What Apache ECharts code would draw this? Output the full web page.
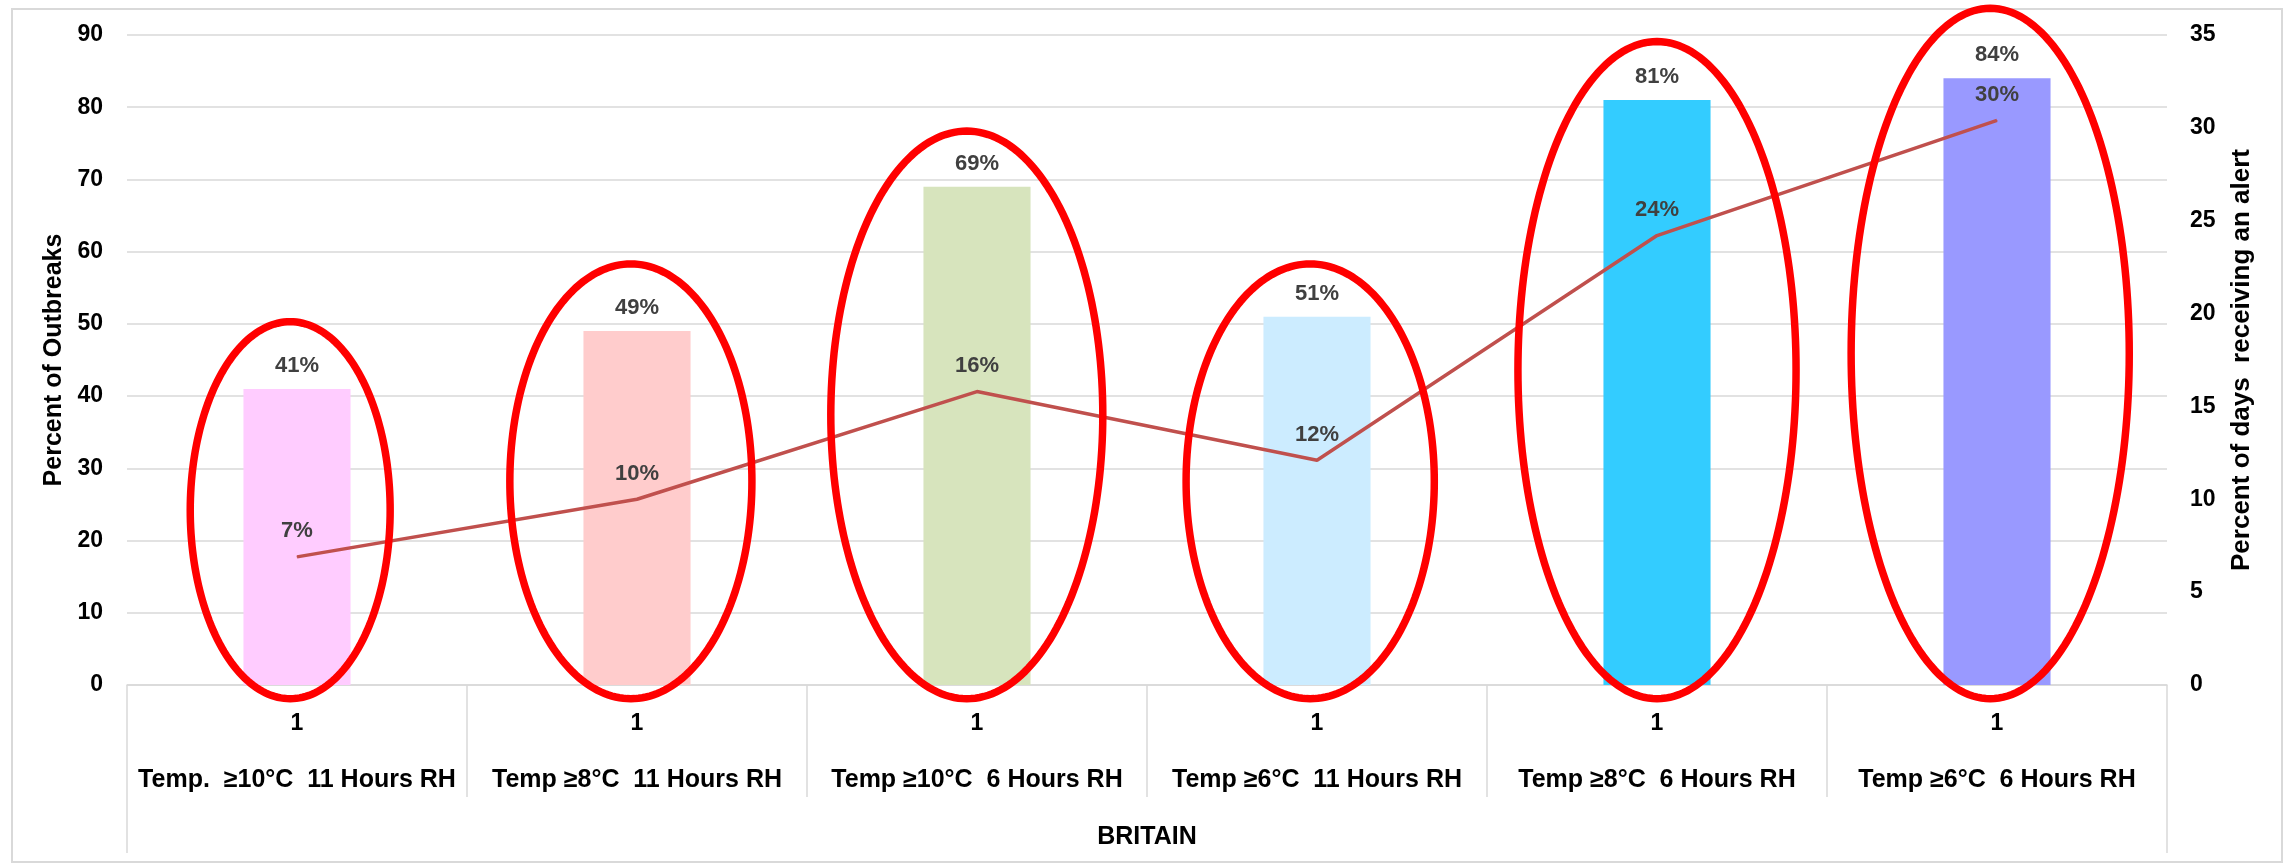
<!DOCTYPE html>
<html>
<head>
<meta charset="utf-8">
<script src="https://cdn.jsdelivr.net/npm/echarts@6/dist/echarts.min.js"></script>
<style>
  html, body { margin: 0; padding: 0; background: #ffffff; }
  #chart { width: 2293px; height: 863px; }
</style>
</head>
<body>
<div id="chart"></div>
<script>
// ---- data ----
var categories = [
  'Temp.  \u226510\u00B0C  11 Hours RH',
  'Temp \u22658\u00B0C  11 Hours RH',
  'Temp \u226510\u00B0C  6 Hours RH',
  'Temp \u22656\u00B0C  11 Hours RH',
  'Temp \u22658\u00B0C  6 Hours RH',
  'Temp \u22656\u00B0C  6 Hours RH'
];
var levelLabel = '1';
var groupLabel = ['BRITAIN'];
var outbreakPercent = [41, 49, 69, 51, 81, 84];
var alertDaysPercent = [6.9, 10.0, 15.8, 12.1, 24.2, 30.4];
var barColors = ['#FFCCFF', '#FFCCCC', '#D7E4BD', '#CCECFF', '#33CCFF', '#9999FF'];
// highlight rings: [category index, centre (left-axis units), half height (left-axis units), half width (fraction of band), shift (fraction of band)]
var highlightRings = [
  [0, 24.2, 26.1, 0.294, -0.02],
  [1, 28.2, 30.1, 0.356, -0.018],
  [2, 37.4, 39.3, 0.400, -0.03],
  [3, 28.2, 30.1, 0.365, -0.02],
  [4, 43.6, 45.5, 0.409, 0.0],
  [5, 45.9, 47.8, 0.409, -0.02]
];
var leftTitle = 'Percent of Outbreaks';
var rightTitle = 'Percent of days  receiving an alert';

// ---- chart ----
var FONT = '"Liberation Sans", Arial, sans-serif';
var chart = echarts.init(document.getElementById('chart'));
var option = {
  backgroundColor: '#ffffff',
  animation: false,
  textStyle: { fontFamily: FONT },
  graphic: [{
    type: 'rect',
    shape: { x: 12, y: 9, width: 2270, height: 853 },
    style: { fill: 'none', stroke: '#D9D9D9', lineWidth: 2 },
    silent: true,
    z: -10
  }],
  grid: { left: 127, right: 126, top: 35, bottom: 178, containLabel: false },
  xAxis: [{
    type: 'category',
    data: categories,
    position: 'bottom',
    axisLine: { show: true, lineStyle: { color: '#D9D9D9', width: 1.5 } },
    axisTick: { show: true, interval: 0, length: 112, lineStyle: { color: '#D9D9D9', width: 1.5 } },
    axisLabel: {
      interval: 0,
      margin: 8,
      formatter: function (v) { return '{one|' + levelLabel + '}\n{name|' + v + '}'; },
      rich: {
        one: { fontFamily: FONT, fontWeight: 'bold', fontSize: 23, lineHeight: 62, color: '#000000' },
        name: { fontFamily: FONT, fontWeight: 'bold', fontSize: 25, lineHeight: 50, color: '#000000' }
      }
    },
    splitLine: { show: false }
  }, {
    type: 'category',
    data: groupLabel,
    position: 'bottom',
    axisLine: { show: false },
    axisTick: { show: true, length: 168, lineStyle: { color: '#D9D9D9', width: 1.5 } },
    axisLabel: { margin: 138, fontFamily: FONT, fontWeight: 'bold', fontSize: 25, color: '#000000', lineHeight: 28 },
    splitLine: { show: false }
  }],
  yAxis: [{
    type: 'value',
    min: 0, max: 90, interval: 10,
    position: 'left',
    name: leftTitle,
    nameLocation: 'middle',
    nameRotate: 90,
    nameGap: 60,
    nameTextStyle: { fontFamily: FONT, fontWeight: 'bold', fontSize: 25, color: '#000000' },
    axisLine: { show: false },
    axisTick: { show: false },
    axisLabel: { margin: 24, fontFamily: FONT, fontWeight: 'bold', fontSize: 23, color: '#000000' },
    splitLine: { show: true, lineStyle: { color: '#D9D9D9', width: 1.5 } }
  }, {
    type: 'value',
    min: 0, max: 35, interval: 5,
    position: 'right',
    name: rightTitle,
    nameLocation: 'middle',
    nameRotate: 90,
    nameGap: 62,
    nameTextStyle: { fontFamily: FONT, fontWeight: 'bold', fontSize: 26, color: '#000000' },
    axisLine: { show: false },
    axisTick: { show: false },
    axisLabel: { margin: 23, fontFamily: FONT, fontWeight: 'bold', fontSize: 23, color: '#000000' },
    splitLine: { show: false }
  }],
  series: [{
    type: 'bar',
    xAxisIndex: 0,
    yAxisIndex: 0,
    barWidth: '31.5%',
    data: outbreakPercent.map(function (v, i) {
      return { value: v, itemStyle: { color: barColors[i] } };
    }),
    label: {
      show: true,
      position: 'top',
      distance: 12,
      formatter: function (p) { return p.value + '%'; },
      fontFamily: FONT, fontWeight: 'bold', fontSize: 22, color: '#404040'
    },
    z: 2
  }, {
    type: 'line',
    xAxisIndex: 0,
    yAxisIndex: 1,
    data: alertDaysPercent,
    symbol: 'circle',
    symbolSize: 1,
    showSymbol: true,
    itemStyle: { color: '#C0504D' },
    lineStyle: { color: '#C0504D', width: 3.5 },
    label: {
      show: true,
      position: 'top',
      distance: 14,
      formatter: function (p) { return Math.round(p.value) + '%'; },
      fontFamily: FONT, fontWeight: 'bold', fontSize: 22, color: '#404040'
    },
    z: 3
  }, {
    type: 'custom',
    xAxisIndex: 0,
    yAxisIndex: 0,
    clip: false,
    silent: true,
    z: 10,
    encode: { x: 0, y: 1 },
    data: highlightRings,
    renderItem: function (params, api) {
      var c = api.coord([api.value(0), api.value(1)]);
      var band = api.size([1, 0])[0];
      var ry = api.size([0, api.value(2)])[1];
      var rx = band * api.value(3);
      var cx = c[0] + band * api.value(4);
      var cy = c[1];
      var pts = [];
      var n = 200;
      for (var i = 0; i < n; i++) {
        var t = i / n * Math.PI * 2;
        pts.push([cx + rx * Math.cos(t), cy + ry * Math.sin(t)]);
      }
      return {
        type: 'polygon',
        shape: { points: pts },
        style: { fill: 'none', stroke: '#FF0000', lineWidth: 7.5 }
      };
    }
  }]
};
chart.setOption(option);
</script>
</body>
</html>
